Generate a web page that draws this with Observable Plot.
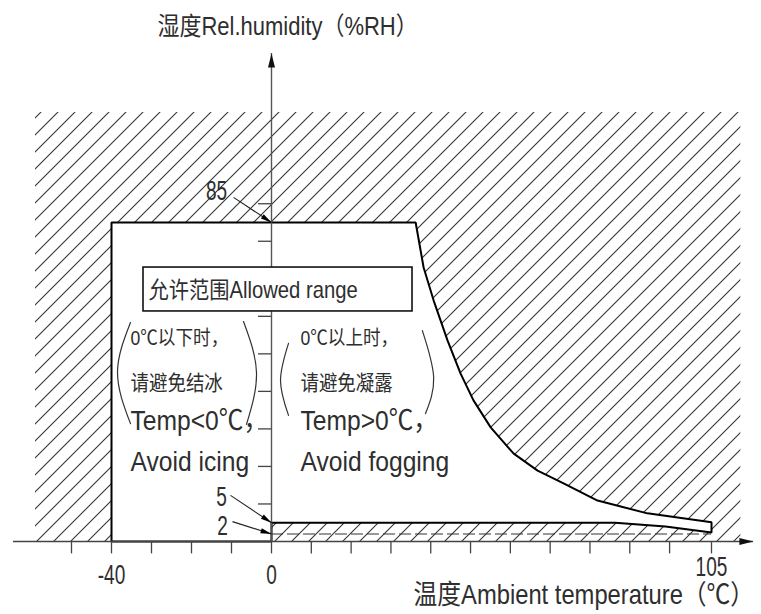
<!DOCTYPE html>
<html><head><meta charset="utf-8">
<script src="https://cdn.jsdelivr.net/npm/d3@7"></script>
<script src="https://cdn.jsdelivr.net/npm/@observablehq/plot@0.6"></script>
<style>body{margin:0;background:#fff}</style>
</head><body><div id="chart"></div>
<script>
// ---- data ----
const curveTemp = [34.4, 36.3, 38.7, 42.0, 45.1, 48.2, 52.3, 57.8, 63.5, 69.7, 77.8, 89.7, 105];
const curveRH   = [85, 73.0, 64.2, 53.6, 44.8, 37.6, 30.4, 23.4, 18.9, 15.5, 10.9, 7.5, 5.1];
const stripTemp = [105, 94, 82, 0];
const stripRH   = [2.4, 4.0, 5, 5];
const minTemp = -40, maxTemp = 105, maxRH = 85, stripTopRH = 5, dashRH = 2;
const xTicks = [-50, -40, -30, -20, -10, 0, 9.5, 19, 28.5, 38, 47.5, 57, 66.5, 76, 85.5, 95, 105];
const xTickLabels = ["-40", "0", "105"];
const xTickLabelValues = [-40, 0, 105];
const yTicks = [10, 20, 30, 40, 50, 60, 70, 80, 90];
const markedRH = [85, 5, 2];
const markedLabels = ["85", "5", "2"];
const yTitle = "湿度Rel.humidity（%RH）";
const xTitle = "温度Ambient temperature（℃）";
const boxLabel = "允许范围Allowed range";
const leftNote = ["0℃以下时，", "请避免结冰", "Temp<0℃，", "Avoid icing"];
const rightNote = ["0℃以上时，", "请避免凝露", "Temp>0℃，", "Avoid fogging"];

// ---- layout (annotation positions in data units) ----
const xOpts = {type: "linear", domain: [-40, 0, 105], range: [111, 271, 711]};
const yOpts = {type: "linear", domain: [0, 85], range: [541, 222]};
const sx = Plot.scale({x: xOpts}), sy = Plot.scale({y: yOpts});

const hatchExtent = [{x1: -59, x2: 112, y1: 0, y2: 114.3}];
const axisX = {x1: -64.5, x2: 115}, axisYTop = 130;
const boxRect = [{x1: -32, x2: 33.65, y1: 61.3, y2: 73}];

// allowed region polygon
const region = [
  {x: minTemp, y: 0}, {x: minTemp, y: maxRH},
  ...curveTemp.map((t, i) => ({x: t, y: curveRH[i]})),
  ...stripTemp.map((t, i) => ({x: t, y: stripRH[i]})),
  {x: 0, y: 0}, {x: minTemp, y: 0}
];

// leader lines for the marked values
const leaderStart = [{x: -9.5, y: 91.7}, {x: -10.25, y: 12.3}, {x: -9.75, y: 5.3}];
const leaderLabelPos = [{x: -13.75, y: 93.3}, {x: -12.5, y: 11.9}, {x: -12.25, y: 4.1}];
const leaders = markedRH.map((v, i) => {
  const px0 = sx.apply(leaderStart[i].x), py0 = sy.apply(leaderStart[i].y);
  const px1 = sx.apply(0), py1 = sy.apply(v);
  return {x1: leaderStart[i].x, y1: leaderStart[i].y, x2: 0, y2: v,
    rot: Math.atan2(px1 - px0, -(py1 - py0)) * 180 / Math.PI,
    lx: leaderLabelPos[i].x, ly: leaderLabelPos[i].y, label: markedLabels[i]};
});

// parentheses
const parens = [
  {g: "a", pts: [[-35.25, 58.35], [-38.5, 45.0], [-35.25, 31.4]]},
  {g: "b", pts: [[-7, 58.6], [-3.75, 45.0], [-6.25, 31.2]]},
  {g: "c", pts: [[4.06, 52.8], [2.15, 42.9], [4.06, 33.6]]},
  {g: "d", pts: [[36.0, 56.2], [38.7, 43.7], [36.75, 34.1]]}
].flatMap(p => p.pts.map(([x, y]) => ({g: p.g, x, y})));

const noteY = [54.1, 42.1, 32.2, 21.3];
const noteSize = [20, 21, 28, 28];
const notes = [
  ...leftNote.map((t, i) => ({x: -35.25, y: noteY[i], t, s: noteSize[i]})),
  ...rightNote.map((t, i) => ({x: 6.9, y: noteY[i], t, s: noteSize[i]}))
];

const bigHead = {draw(c) { c.moveTo(0, 0); c.lineTo(3.5, 14); c.lineTo(-3.5, 14); c.closePath(); }};
const smallHead = {draw(c) { c.moveTo(0, 0); c.lineTo(2.6, 11); c.lineTo(-2.6, 11); c.closePath(); }};

const FONT = "'Liberation Sans', Arial, 'Noto Sans CJK SC', sans-serif";
const TXT = "#2e2e2e";

const plot = Plot.plot({
  width: 761, height: 614,
  marginTop: 0, marginRight: 0, marginBottom: 0, marginLeft: 0,
  x: {...xOpts, axis: null},
  y: {...yOpts, axis: null},
  style: {fontFamily: FONT, background: "#fff", overflow: "visible"},
  marks: [
    Plot.rect(hatchExtent, {x1: "x1", x2: "x2", y1: "y1", y2: "y2", fill: "url(#hatch)"}),
    Plot.line(region, {x: "x", y: "y", fill: "#fff", stroke: "#000", strokeWidth: 2, strokeLinejoin: "miter"}),
    Plot.ruleY([dashRH], {x1: () => 0, x2: () => maxTemp, stroke: "#333", strokeWidth: 1.2, strokeDasharray: "12,4"}),
    // axes
    Plot.ruleY([0], {x1: () => axisX.x1, x2: () => axisX.x2, stroke: "#444", strokeWidth: 1.4}),
    Plot.ruleX([0], {y1: () => 0, y2: () => axisYTop, stroke: "#555", strokeWidth: 1.4}),
    Plot.ruleX(xTicks, {x: d => d, y1: () => 0, y2: () => -3.3, stroke: "#444", strokeWidth: 1.3}),
    Plot.ruleY(yTicks, {y: d => d, x1: () => -3.25, x2: () => 0, stroke: "#444", strokeWidth: 1.3}),
    Plot.dot([{x: 0, y: axisYTop, r: 0}, {x: axisX.x2, y: 0, r: 90}], {x: "x", y: "y", rotate: "r", symbol: bigHead, fill: "#111", stroke: "none", r: 4}),
    Plot.text(xTickLabels, {x: (d, i) => xTickLabelValues[i], y: (d, i) => i === 2 ? -6.8 : -8.9, text: d => d, fontSize: 28, fill: TXT}),
    // box
    Plot.rect(boxRect, {x1: "x1", x2: "x2", y1: "y1", y2: "y2", fill: "#fff", stroke: "#111", strokeWidth: 1.6}),
    Plot.text([boxLabel], {x: () => -30.75, y: () => 66.9, text: d => d, textAnchor: "start", fontSize: 23, fill: TXT}),
    // notes
    Plot.text(notes, {x: "x", y: "y", text: "t", fontSize: "s", textAnchor: "start", fill: TXT}),
    Plot.line(parens, {x: "x", y: "y", z: "g", curve: "natural", stroke: "#333", strokeWidth: 1.2}),
    // leaders
    Plot.link(leaders, {x1: "x1", y1: "y1", x2: "x2", y2: "y2", stroke: "#222", strokeWidth: 1.1}),
    Plot.dot(leaders, {x: "x2", y: "y2", rotate: "rot", symbol: smallHead, fill: "#000", stroke: "none", r: 4}),
    Plot.text(leaders, {x: "lx", y: "ly", text: "label", fontSize: 28, fill: TXT}),
    // titles
    Plot.text([yTitle], {x: () => -28.5, y: () => 137.2, text: d => d, textAnchor: "start", fontSize: 25, fill: TXT}),
    Plot.text([xTitle], {x: () => 33.9, y: () => -14.4, text: d => d, textAnchor: "start", fontSize: 27, fill: TXT})
  ]
});

// narrow, drafting-style lettering: compress texts horizontally about their anchors
d3.select(plot).selectAll("text").each(function () {
  const t = d3.select(this);
  const s = /^-?\d+$/.test(this.textContent.trim()) ? 0.68 : 0.88;
  const xa = t.attr("x");
  if (xa != null && !isNaN(+xa) && +xa !== 0) t.attr("x", +xa / s);
  const tr = t.attr("transform") || "";
  t.attr("transform", `${tr} scale(${s},1)`);
});

const defs = d3.select(plot).insert("defs", ":first-child");
const pat = defs.append("pattern").attr("id", "hatch").attr("patternUnits", "userSpaceOnUse")
  .attr("width", 17).attr("height", 17);
pat.append("path").attr("d", "M-2,2 L2,-2 M0,17 L17,0 M15,19 L19,15")
  .attr("stroke", "#333").attr("stroke-width", 1.1).attr("fill", "none");

document.getElementById("chart").appendChild(plot);
</script>
</body></html>
